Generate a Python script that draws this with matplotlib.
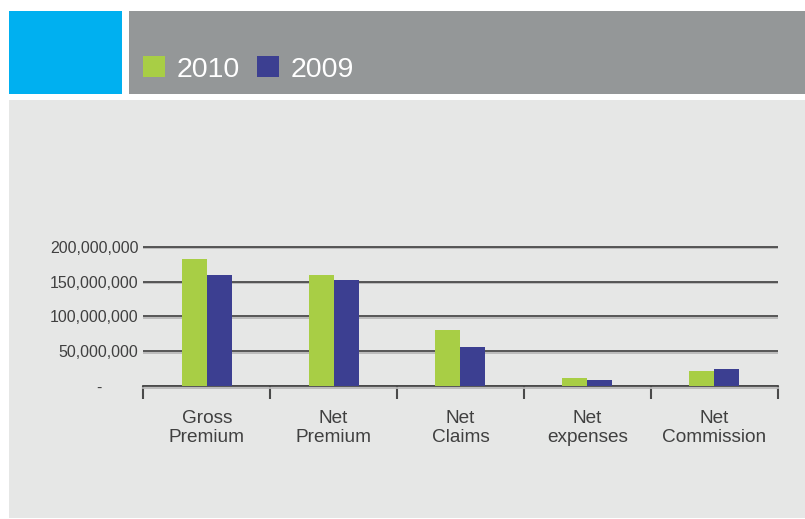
import numpy as np
import matplotlib
matplotlib.use('Agg')
import matplotlib.pyplot as plt
import matplotlib.patheffects as pe
from matplotlib.patches import Rectangle
from matplotlib.ticker import FuncFormatter

categories = ['Gross\nPremium', 'Net\nPremium', 'Net\nClaims', 'Net\nexpenses', 'Net\nCommission']
values_2010 = [182300000, 159400000, 80400000, 11500000, 21500000]
values_2009 = [159400000, 152200000, 56000000, 8600000, 24400000]
yticks = [0, 50000000, 100000000, 150000000, 200000000]

green = '#A8CE45'
navy = '#3C3F91'
text_col = '#404040'
line_col = '#4a4a4a'

plt.rcParams['font.family'] = ['Liberation Sans', 'DejaVu Sans']

fig = plt.figure(figsize=(8.05, 5.19), dpi=100)
fig.patch.set_facecolor('white')

W, H = 805.0, 519.0
def box(x0, y0, x1, y1, c):
	# pixel coords from top-left
	fig.patches.append(Rectangle((x0 / W, 1 - y1 / H), (x1 - x0) / W, (y1 - y0) / H,
		transform=fig.transFigure, facecolor=c, edgecolor='none', zorder=-5))

box(9, 11, 122, 94, '#00B0F0')
box(129, 11, 805, 94, '#949798')
box(9, 100, 805, 518, '#E6E7E6')

ax = fig.add_axes([143.3 / W, 1 - 386 / H, (777.5 - 143.3) / W, (386 - 245.3) / H])
ax.set_facecolor('none')

x = np.arange(len(categories))
w = 0.197
b1 = ax.bar(x - w / 2, values_2010, w, color=green, label='2010', zorder=3)
b2 = ax.bar(x + w / 2, values_2009, w, color=navy, label='2009', zorder=3)

ax.set_xlim(-0.5, len(categories) - 0.5)
ax.set_ylim(0, 202000000)

shadow = [pe.SimpleLineShadow(offset=(0, -1.2), shadow_color='#b8b8b8', alpha=1), pe.Normal()]
ax.set_yticks(yticks)
ax.yaxis.grid(True, color=line_col, linewidth=1.3, path_effects=shadow)
ax.set_axisbelow(True)

def fmt(v, pos):
	if v == 0:
		return '-' + ' ' * 8
	return '{:,.0f}'.format(v)
ax.yaxis.set_major_formatter(FuncFormatter(fmt))
ax.tick_params(axis='y', length=0, pad=3.6, labelsize=11.5, labelcolor=text_col)

ax.set_xticks(x)
ax.set_xticklabels(categories, linespacing=1.15)
ax.set_xticks(np.arange(len(categories) + 1) - 0.5, minor=True)
ax.tick_params(axis='x', which='major', length=0, pad=17, labelsize=13.7, labelcolor=text_col)
ax.tick_params(axis='x', which='minor', length=9.5, width=1.5, color=line_col, direction='out')

for s in ['top', 'right', 'left']:
	ax.spines[s].set_visible(False)
ax.spines['bottom'].set_color(line_col)
ax.spines['bottom'].set_linewidth(1.3)
ax.spines['bottom'].set_path_effects(shadow)

leg = fig.legend(handles=[b1, b2], labels=['2010', '2009'], ncol=2,
	loc='center left', bbox_to_anchor=(143 / W, 1 - 69.5 / H),
	frameon=False, fontsize=20.5, labelcolor='white',
	handlelength=0.77, handleheight=0.77, handletextpad=0.41,
	columnspacing=0.6, borderpad=0, borderaxespad=0)

fig.savefig('out.png', dpi=100)
